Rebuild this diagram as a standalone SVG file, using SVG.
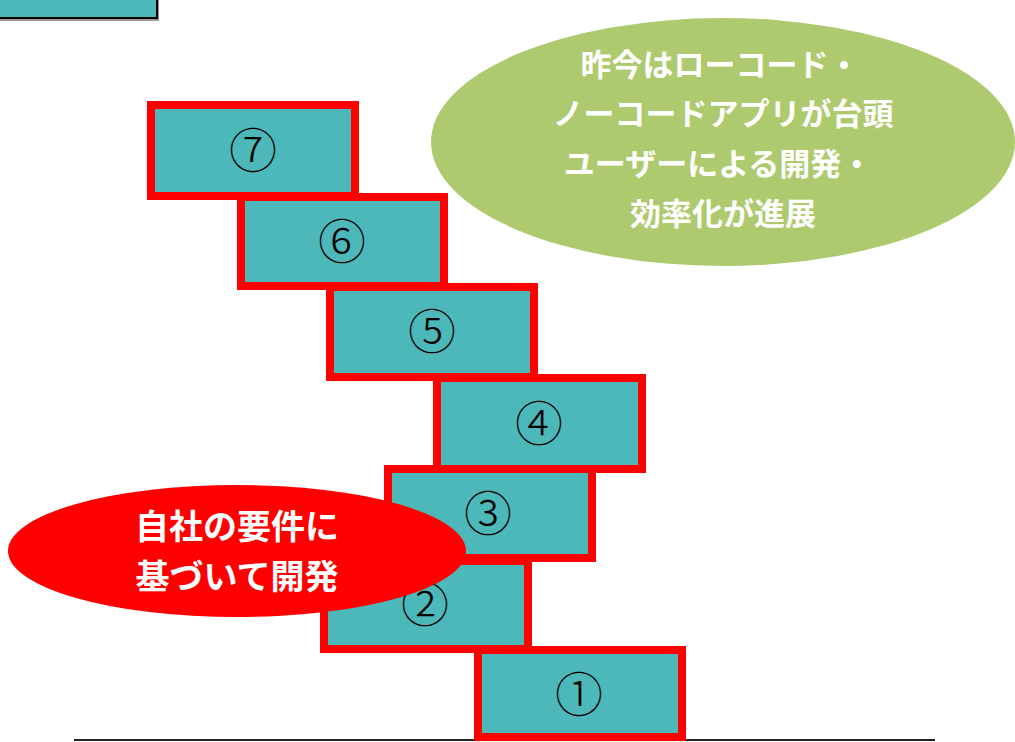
<svg xmlns="http://www.w3.org/2000/svg" width="1015" height="742" viewBox="0 0 1015 742">
<style>
.step{fill:#4CB8B9;stroke:#FF0000;stroke-width:8}
.num{font-family:"Noto Sans CJK JP",sans-serif;font-weight:300;font-size:48px;fill:#000;text-anchor:middle}
.wt{font-family:"Noto Sans CJK JP",sans-serif;font-weight:bold;fill:#fff;text-anchor:middle}
</style>
<rect width="1015" height="742" fill="#fff"/>
<g id="topbox">
<rect x="-8" y="-8" width="167" height="29" fill="#999"/>
<rect x="-10" y="-10" width="167" height="28" fill="#4CB8B9" stroke="#000" stroke-width="2"/>
</g>
<g id="base"><line x1="74" y1="740" x2="935" y2="740" stroke="#222" stroke-width="2"/></g>
<g id="step7"><rect class="step" x="151" y="105" width="204" height="91"/><text class="num" x="253" y="168">⑦</text></g>
<g id="step6"><rect class="step" x="241" y="197" width="203" height="89"/><text class="num" x="342" y="259">⑥</text></g>
<g id="step5"><rect class="step" x="330" y="287" width="204" height="90"/><text class="num" x="432" y="349">⑤</text></g>
<g id="step4"><rect class="step" x="437" y="378" width="205" height="91"/><text class="num" x="539" y="441">④</text></g>
<g id="step3"><rect class="step" x="388" y="469" width="204" height="89"/><text class="num" x="488" y="531">③</text></g>
<g id="step2"><rect class="step" x="324" y="561" width="204" height="88"/><text class="num" x="425" y="622">②</text></g>
<g id="step1"><rect class="step" x="478" y="650" width="204" height="87"/><text class="num" x="579" y="712">①</text></g>
<g id="red-note">
<ellipse cx="237" cy="551" rx="229" ry="66" fill="#FF0000"/>
<text class="wt" x="237" y="539" font-size="34">自社の要件に</text>
<text class="wt" x="237" y="589" font-size="34">基づいて開発</text>
</g>
<g id="green-note">
<ellipse cx="723" cy="142" rx="292" ry="124" fill="#ADCA6E"/>
<text class="wt" x="720" y="76" font-size="31">昨今はローコード・</text>
<text class="wt" x="723" y="125" font-size="31">ノーコードアプリが台頭</text>
<text class="wt" x="718" y="175" font-size="31">ユーザーによる開発・</text>
<text class="wt" x="723" y="225" font-size="31">効率化が進展</text>
</g>
</svg>
